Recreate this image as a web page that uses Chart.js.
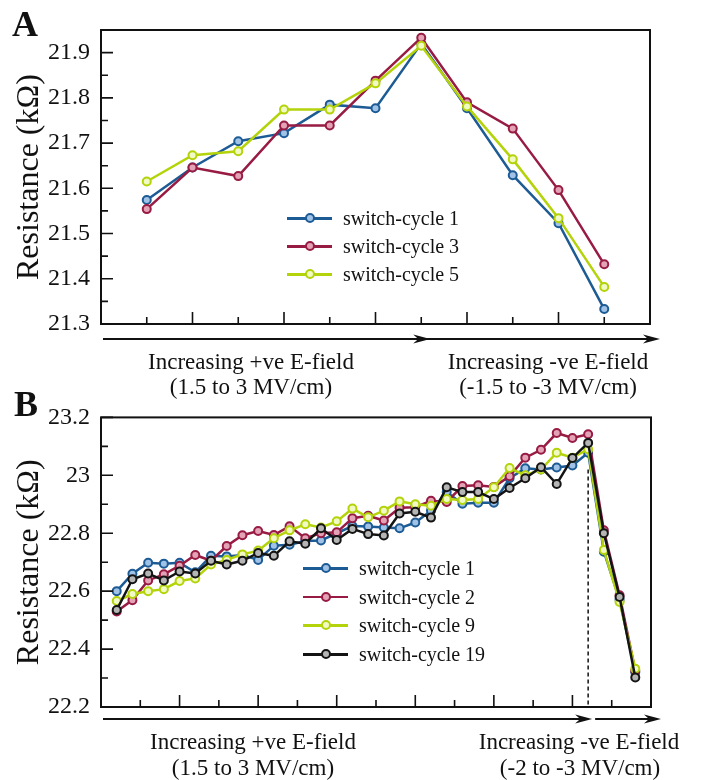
<!DOCTYPE html>
<html lang="en">
<head>
<meta charset="UTF-8">
<title>Resistance vs E-field switching</title>
<script src="https://cdn.jsdelivr.net/npm/chart.js@4.4.0/dist/chart.umd.min.js"></script>
<style>
  body { margin: 0; background: #fff; font-family: "Liberation Serif", "DejaVu Serif", serif; color: #111; }
  #page { position: relative; width: 702px; height: 780px; overflow: hidden; }
  canvas { position: absolute; left: 0; }
  .lbl { position: absolute; transform: translate(-50%, -50%); white-space: nowrap; font-size: 23px; line-height: 1; }
  .panel { position: absolute; font-weight: bold; font-size: 36px; line-height: 1; }
  .legend { position: absolute; font-size: 20px; }
  .legend .row { position: absolute; left: 0; height: 28px; width: 220px; }
  .legend .ln { position: absolute; left: 0; top: 13px; width: 45px; height: 2.5px; }
  .legend .mk { position: absolute; top: 9px; width: 6px; height: 6px; border-radius: 50%; border: 2px solid; }
  .legend .tx { position: absolute; top: 0; line-height: 28px; }
</style>
</head>
<body>
<div id="page">
  <canvas id="chartA" width="702" height="392" style="top:0"></canvas>
  <canvas id="chartB" width="702" height="388" style="top:392px"></canvas>

  <div class="panel" style="left:12px; top:6px">A</div>
  <div class="panel" style="left:14px; top:386px">B</div>

  <div class="lbl" style="left:251px; top:361px">Increasing +ve E-field</div>
  <div class="lbl" style="left:251px; top:386px">(1.5 to 3 MV/cm)</div>
  <div class="lbl" style="left:548px; top:361px">Increasing -ve E-field</div>
  <div class="lbl" style="left:548px; top:386px">(-1.5 to -3 MV/cm)</div>

  <div class="lbl" style="left:253px; top:741px">Increasing +ve E-field</div>
  <div class="lbl" style="left:253px; top:767px">(1.5 to 3 MV/cm)</div>
  <div class="lbl" style="left:579px; top:741px">Increasing -ve E-field</div>
  <div class="lbl" style="left:580px; top:767px">(-2 to -3 MV/cm)</div>

  <div class="legend" id="legendA" style="left:287px; top:204px"></div>
  <div class="legend" id="legendB" style="left:303px; top:554px"></div>
</div>

<script>
// ---- panel A data: 11 field steps (6 positive, 5 negative) ----
const stepsA = [1, 2, 3, 4, 5, 6, 7, 8, 9, 10, 11];
const cycle1A = [21.574, 21.646, 21.704, 21.722, 21.785, 21.777, 21.920, 21.777, 21.629, 21.523, 21.333];
const cycle3A = [21.554, 21.646, 21.627, 21.739, 21.739, 21.838, 21.933, 21.790, 21.732, 21.596, 21.432];
const cycle5A = [21.615, 21.673, 21.682, 21.774, 21.774, 21.832, 21.915, 21.781, 21.664, 21.534, 21.382];
const yTicksA = [21.3, 21.4, 21.5, 21.6, 21.7, 21.8, 21.9];
const yLabelsA = ['21.3', '21.4', '21.5', '21.6', '21.7', '21.8', '21.9'];

// ---- panel B data: 31 positive steps + 3 negative steps ----
const stepsB = [0, 1, 2, 3, 4, 5, 6, 7, 8, 9, 10, 11, 12, 13, 14, 15, 16,
  17, 18, 19, 20, 21, 22, 23, 24, 25, 26, 27, 28, 29, 30, 31, 32, 33];
const cycle1B = [22.600, 22.660, 22.698, 22.695, 22.698, 22.665, 22.722, 22.720, 22.725, 22.708,
  22.757, 22.760, 22.773, 22.775, 22.800, 22.825, 22.823, 22.820, 22.817, 22.837,
  22.878, 22.942, 22.902, 22.905, 22.905, 22.990, 23.024, 23.020, 23.027, 23.034,
  23.078, 22.736, 22.570, 22.320];
const cycle2B = [22.530, 22.569, 22.637, 22.658, 22.688, 22.725, 22.705, 22.756, 22.793, 22.808,
  22.794, 22.824, 22.783, 22.800, 22.803, 22.852, 22.860, 22.844, 22.888, 22.890,
  22.912, 22.908, 22.963, 22.966, 22.960, 22.997, 23.061, 23.088, 23.146, 23.129,
  23.142, 22.810, 22.586, 22.325];
const cycle9B = [22.566, 22.590, 22.600, 22.607, 22.635, 22.644, 22.692, 22.708, 22.727, 22.740,
  22.783, 22.810, 22.831, 22.820, 22.841, 22.885, 22.855, 22.878, 22.910, 22.900,
  22.895, 22.918, 22.915, 22.918, 22.959, 23.025, 23.000, 23.020, 23.078, 23.061,
  23.090, 22.742, 22.563, 22.332];
const cycle19B = [22.535, 22.641, 22.661, 22.637, 22.668, 22.661, 22.705, 22.692, 22.705, 22.732,
  22.722, 22.772, 22.764, 22.817, 22.777, 22.815, 22.797, 22.792, 22.868, 22.874,
  22.854, 22.959, 22.942, 22.942, 22.918, 22.956, 22.990, 23.028, 22.970, 23.060,
  23.112, 22.800, 22.580, 22.302];
const yTicksB = [22.2, 22.4, 22.6, 22.8, 23.0, 23.2];
const yLabelsB = ['22.2', '22.4', '22.6', '22.8', '23', '23.2'];
const lastPositiveB = 30;   // step where the field flips sign (dashed line)
const dashTopB = 23.02;

const COLORS = {
  blue:  { line: '#1d5b95', fill: '#9fc2e6' },
  red:   { line: '#971b43', fill: '#e3a2b6' },
  green: { line: '#b4d30a', fill: '#f1fac4' },
  black: { line: '#141414', fill: '#b5b5b5' }
};

const FONT = '"Liberation Serif", "DejaVu Serif", serif';

const seriesA = [
  { name: 'switch-cycle 1', values: cycle1A, color: COLORS.blue },
  { name: 'switch-cycle 3', values: cycle3A, color: COLORS.red },
  { name: 'switch-cycle 5', values: cycle5A, color: COLORS.green }
];
const seriesB = [
  { name: 'switch-cycle 1', values: cycle1B, color: COLORS.blue },
  { name: 'switch-cycle 2', values: cycle2B, color: COLORS.red },
  { name: 'switch-cycle 9', values: cycle9B, color: COLORS.green },
  { name: 'switch-cycle 19', values: cycle19B, color: COLORS.black }
];

function makeDatasets(series, steps) {
  return series.map((s, i) => ({
    label: s.name,
    data: steps.map((x, j) => ({ x: x, y: s.values[j] })),
    borderColor: s.color.line,
    borderWidth: 2.5,
    pointRadius: 4,
    pointBorderWidth: 2,
    pointBorderColor: s.color.line,
    pointBackgroundColor: s.color.fill,
    tension: 0,
    order: series.length - 1 - i   // later cycles drawn on top
  }));
}

function buildLegend(id, series, rowGap) {
  const box = document.getElementById(id);
  series.forEach((s, i) => {
    const row = document.createElement('div');
    row.className = 'row';
    row.style.top = (i * rowGap) + 'px';
    row.innerHTML =
      '<div class="ln" style="background:' + s.color.line + '"></div>' +
      '<div class="mk" style="left:18px;border-color:' + s.color.line + ';background:' + s.color.fill + '"></div>' +
      '<div class="tx" style="left:56px">' + s.name + '</div>';
    box.appendChild(row);
  });
}

function arrow(ctx, x0, x1, y) {
  ctx.beginPath();
  ctx.moveTo(x0, y);
  ctx.lineTo(x1 - 6, y);
  ctx.stroke();
  ctx.beginPath();
  ctx.moveTo(x1, y);
  ctx.lineTo(x1 - 17, y - 4.5);
  ctx.lineTo(x1 - 12, y);
  ctx.lineTo(x1 - 17, y + 4.5);
  ctx.closePath();
  ctx.fill();
}

// box, inward ticks, arrows and the dashed divider
const framePlugin = {
  id: 'frame',
  afterDraw(chart, args, opts) {
    const { ctx, chartArea: a, scales } = chart;
    const xs = scales.x, ys = scales.y;
    ctx.save();
    ctx.strokeStyle = '#111';
    ctx.fillStyle = '#111';
    ctx.lineWidth = 2;
    ctx.strokeRect(a.left, a.top, a.right - a.left, a.bottom - a.top);

    ctx.lineWidth = 1.6;
    ctx.beginPath();
    opts.yTicks.forEach((v, i) => {
      const y = ys.getPixelForValue(v);
      ctx.moveTo(a.left, y); ctx.lineTo(a.left + 12, y);
      if (i < opts.yTicks.length - 1) {
        const ym = ys.getPixelForValue((v + opts.yTicks[i + 1]) / 2);
        ctx.moveTo(a.left, ym); ctx.lineTo(a.left + 7, ym);
      }
    });
    opts.xTicks.forEach((v, i) => {
      const x = xs.getPixelForValue(v);
      const len = (i % 2 === 1) ? 12 : 7;
      ctx.moveTo(x, a.bottom); ctx.lineTo(x, a.bottom - len);
    });
    ctx.stroke();

    if (opts.dashAt !== undefined) {
      const x = xs.getPixelForValue(opts.dashAt);
      ctx.lineWidth = 1.5;
      ctx.setLineDash([4, 3]);
      ctx.beginPath();
      ctx.moveTo(x, ys.getPixelForValue(opts.dashTop));
      ctx.lineTo(x, a.bottom);
      ctx.stroke();
      ctx.setLineDash([]);
    }

    ctx.lineWidth = 2.2;
    const ay = a.bottom + opts.arrowGap;
    opts.arrows.forEach(ar => {
      const x0 = ar.from === 'left' ? a.left + 2 : xs.getPixelForValue(ar.from) + ar.fromShift;
      const x1 = ar.to === 'right' ? a.right + 10 : xs.getPixelForValue(ar.to) + ar.toShift;
      arrow(ctx, x0, x1, ay);
    });
    ctx.restore();
  }
};

function yAxis(min, max, ticks, labels) {
  return {
    type: 'linear',
    min: min,
    max: max,
    afterBuildTicks: s => { s.ticks = ticks.map(v => ({ value: v })); },
    afterFit: s => { s.width = 101; },
    ticks: {
      color: '#111',
      padding: 11,
      font: { family: FONT, size: 24 },
      callback: (v, i) => labels[i]
    },
    grid: { display: false, drawTicks: false },
    border: { display: false },
    title: {
      display: true,
      text: 'Resistance (kΩ)',
      color: '#111',
      font: { family: FONT, size: 32 },
      padding: { top: 10, bottom: 0 }
    }
  };
}

function xAxis(min, max, h) {
  return {
    type: 'linear',
    min: min,
    max: max,
    afterFit: s => { s.height = h; },
    ticks: { display: false },
    grid: { display: false, drawTicks: false },
    border: { display: false }
  };
}

// x tick marks: A every step, B every 2.5 steps
const xTicksA = [];
for (let k = 1; k <= 11; k++) xTicksA.push(k);
const xTicksB = [];
for (let k = 1; k <= 13; k++) xTicksB.push(-1 + 2.5 * k);

new Chart(document.getElementById('chartA'), {
  type: 'line',
  data: { datasets: makeDatasets(seriesA, stepsA) },
  plugins: [framePlugin],
  options: {
    responsive: false,
    animation: false,
    layout: { padding: { top: 30, right: 52, left: 0, bottom: 0 } },
    plugins: {
      legend: { display: false },
      tooltip: { enabled: false },
      frame: {
        yTicks: yTicksA,
        xTicks: xTicksA,
        arrowGap: 15,
        arrows: [
          { from: 'left', to: 7, toShift: 9 },
          { from: 'left', to: 'right' }
        ]
      }
    },
    scales: {
      x: xAxis(0, 12, 68),
      y: yAxis(21.3, 21.95, yTicksA, yLabelsA)
    }
  }
});

new Chart(document.getElementById('chartB'), {
  type: 'line',
  data: { datasets: makeDatasets(seriesB, stepsB) },
  plugins: [framePlugin],
  options: {
    responsive: false,
    animation: false,
    layout: { padding: { top: 20, right: 51, left: 0, bottom: 0 } },
    plugins: {
      legend: { display: false },
      tooltip: { enabled: false },
      frame: {
        yTicks: yTicksB,
        xTicks: xTicksB,
        dashAt: lastPositiveB,
        dashTop: dashTopB,
        arrowGap: 12,
        arrows: [
          { from: 'left', to: lastPositiveB, toShift: 4 },
          { from: lastPositiveB, fromShift: 7, to: 'right' }
        ]
      }
    },
    scales: {
      x: xAxis(-1, 34, 73),
      y: yAxis(22.2, 23.2, yTicksB, yLabelsB)
    }
  }
});

buildLegend('legendA', seriesA, 28);
buildLegend('legendB', seriesB, 28.7);
</script>
</body>
</html>
